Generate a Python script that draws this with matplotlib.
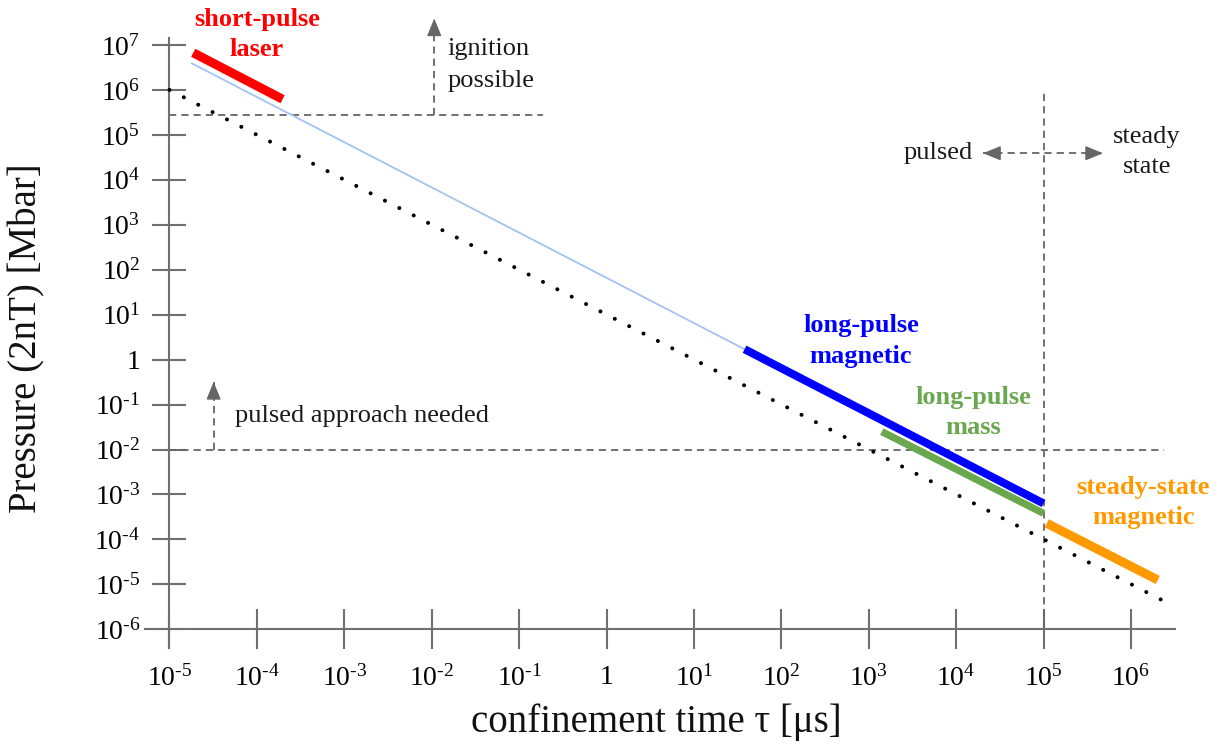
import matplotlib
matplotlib.use('Agg')
import matplotlib.pyplot as plt

plt.rcParams['font.family'] = ['Liberation Serif', 'DejaVu Serif']
plt.rcParams['mathtext.fontset'] = 'custom'
plt.rcParams['mathtext.rm'] = 'Liberation Serif'
plt.rcParams['mathtext.it'] = 'Liberation Serif:italic'
plt.rcParams['mathtext.bf'] = 'Liberation Serif:bold'

# ---------------- data ----------------
x_tick_values = [1e-5, 1e-4, 1e-3, 1e-2, 1e-1, 1, 1e1, 1e2, 1e3, 1e4, 1e5, 1e6]
x_tick_exponents = ['‐5', '‐4', '‐3', '‐2', '‐1', '', '1', '2', '3', '4', '5', '6']
y_tick_values = [1e-6, 1e-5, 1e-4, 1e-3, 1e-2, 1e-1, 1, 1e1, 1e2, 1e3, 1e4, 1e5, 1e6, 1e7]
y_tick_exponents = ['‐6', '‐5', '‐4', '‐3', '‐2', '‐1', '', '1', '2', '3', '4', '5', '6', '7']


def make_label(e):
    return '1' if e == '' else r'$\mathregular{10^{%s}}$' % e


x_tick_labels = [make_label(e) for e in x_tick_exponents]
y_tick_labels = [make_label(e) for e in y_tick_exponents]

dotted_tau = [1e-5, 2.3e6]
dotted_p = [1e6, 4.4e-6]
guide_tau = [1.8e-5, 38]
guide_p = [3.9e6, 1.7]
laser_tau = [1.87e-5, 1.97e-4]
laser_p = [6.7e6, 6.2e5]
lp_magnetic_tau = [38, 1e5]
lp_magnetic_p = [1.7, 6.3e-4]
lp_mass_tau = [1410, 1e5]
lp_mass_p = [0.025, 3.8e-4]
ss_magnetic_tau = [1.09e5, 2.03e6]
ss_magnetic_p = [2.28e-4, 1.25e-5]

ignition_tau = [1e-5, 0.19]
ignition_p = [2.8e5, 2.8e5]
ignition_arrow_tau = [0.0107, 0.0107]
ignition_arrow_p = [2.8e5, 3.9e7]

pulsed_tau = [1e-5, 2.4e6]
pulsed_p = [0.01, 0.01]
pulsed_arrow_tau = [3.2e-5, 3.2e-5]
pulsed_arrow_p = [0.01, 0.32]

boundary_tau = [1e5, 1e5]
boundary_p = [1e-6, 8.5e5]
regime_arrow_tau = [2.03e4, 4.8e5]
regime_arrow_p = [3.9e4, 3.9e4]

# ---------------- figure ----------------
fig = plt.figure(figsize=(12.2, 7.54), dpi=100)
ax = fig.add_axes([0, 0, 1, 1])
ax.set_xscale('log')
ax.set_yscale('log')
ax.set_xlim(10 ** -6.939, 10 ** 7.019)
ax.set_ylim(10 ** -8.774, 10 ** 8.0)
ax.patch.set_alpha(0)

axis_gray = '#707070'
dash_gray = '#666666'

for s in ['top', 'right']:
    ax.spines[s].set_visible(False)
ax.spines['left'].set_position(('data', 1e-5))
ax.spines['bottom'].set_position(('data', 1e-6))
ax.spines['left'].set_bounds(10 ** -6.42, 10 ** 7.16)
ax.spines['bottom'].set_bounds(10 ** -5.28, 10 ** 6.505)
for s in ['left', 'bottom']:
    ax.spines[s].set_color(axis_gray)
    ax.spines[s].set_linewidth(1.5)

ax.set_xticks(x_tick_values)
ax.set_xticklabels(x_tick_labels)
ax.set_yticks(y_tick_values)
ax.set_yticklabels(y_tick_labels)
ax.minorticks_off()
ax.tick_params(axis='x', direction='inout', length=29, width=1.5, color=axis_gray,
               labelsize=20, pad=11)
ax.tick_params(axis='y', direction='inout', length=24, width=1.5, color=axis_gray,
               labelsize=20, pad=9)

# dashed guides
dash_kw = dict(color=dash_gray, lw=1.3, linestyle=(0, (4.0, 2.8)))
ax.plot(ignition_tau, ignition_p, **dash_kw)
ax.plot(ignition_arrow_tau, ignition_arrow_p, **dash_kw)
ax.plot(pulsed_tau, pulsed_p, **dash_kw)
ax.plot(pulsed_arrow_tau, pulsed_arrow_p, **dash_kw)
ax.plot(boundary_tau, boundary_p, **dash_kw)
ax.plot(regime_arrow_tau, regime_arrow_p, **dash_kw)

head = dict(arrowstyle='-|>,head_length=1.1,head_width=0.45', fc=dash_gray, ec=dash_gray,
            lw=1.0, shrinkA=0, shrinkB=0, mutation_scale=10)
ax.annotate('', xy=(ignition_arrow_tau[1], ignition_arrow_p[1]), xytext=(0, -11),
            textcoords='offset points', arrowprops=head)
ax.annotate('', xy=(pulsed_arrow_tau[1], pulsed_arrow_p[1]), xytext=(0, -11),
            textcoords='offset points', arrowprops=head)
ax.annotate('', xy=(regime_arrow_tau[0], regime_arrow_p[0]), xytext=(11, 0),
            textcoords='offset points', arrowprops=head)
ax.annotate('', xy=(regime_arrow_tau[1], regime_arrow_p[1]), xytext=(-11, 0),
            textcoords='offset points', arrowprops=head)

# lines
ax.plot(guide_tau, guide_p, color='#a4c2f4', lw=1.3, zorder=3)
ax.plot(dotted_tau, dotted_p, color='black', lw=2.9, linestyle=(0, (0.01, 4.0)),
        dash_capstyle='round', zorder=3)
ax.plot(lp_mass_tau, lp_mass_p, color='#6aa84f', lw=5.2, solid_capstyle='butt', zorder=4)
ax.plot(lp_magnetic_tau, lp_magnetic_p, color='#0000ff', lw=5.8, solid_capstyle='butt', zorder=5)
ax.plot(laser_tau, laser_p, color='#ff0000', lw=6.5, solid_capstyle='butt', zorder=5)
ax.plot(ss_magnetic_tau, ss_magnetic_p, color='#ff9900', lw=6.5, solid_capstyle='butt', zorder=5)

# texts
lbl = dict(fontsize=19, fontweight='bold', ha='center', va='center', linespacing=1.4)
ax.text(1.0e-4, 1.7e7, 'short-pulse\nlaser', color='#ff0000', **lbl)
ax.text(817, 2.6, 'long-pulse\nmagnetic', color='#0000ff', **lbl)
ax.text(1.56e4, 0.0665, 'long-pulse\nmass', color='#6aa84f', **lbl)
ax.text(1.38e6, 6.6e-4, 'steady-state\nmagnetic', color='#ff9900', **lbl)

note = dict(fontsize=19, color='#1a1a1a', va='center')
ax.text(0.0153, 3.6e6, 'ignition\npossible', ha='left', linespacing=1.55, **note)
ax.text(5.6e-5, 0.056, 'pulsed approach needed', ha='left', **note)
ax.text(1.56e4, 3.9e4, 'pulsed', ha='right', **note)
ax.text(1.53e6, 4.1e4, 'steady\nstate', ha='center', linespacing=1.45, **note)

fig.text(27 / 1220, 1 - 338 / 754, 'Pressure (2nT) [Mbar]', rotation=90, fontsize=28,
         ha='center', va='center', color='#111111')
fig.text(656 / 1220, 1 - 722 / 754, 'confinement time τ [μs]', fontsize=28,
         ha='center', va='center', color='#111111')

fig.savefig('out.png', dpi=100)
